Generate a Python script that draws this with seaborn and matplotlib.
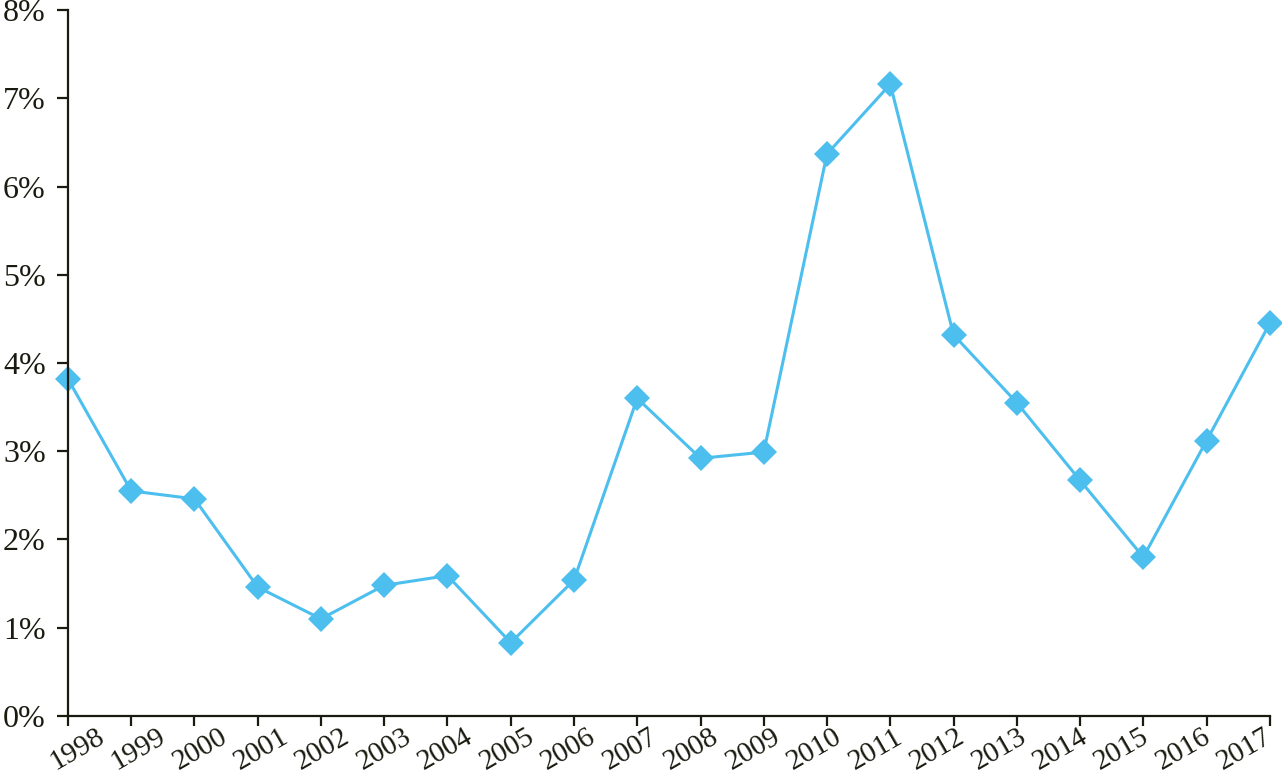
import pandas as pd
import seaborn as sns
import matplotlib.pyplot as plt
from matplotlib.transforms import ScaledTranslation

years = [str(y) for y in range(1998, 2018)]
rate = [3.82, 2.55, 2.46, 1.46, 1.10, 1.48, 1.59, 0.83, 1.54, 3.60,
        2.92, 2.99, 6.37, 7.16, 4.32, 3.55, 2.67, 1.80, 3.12, 4.45]
y_ticks = [0, 1, 2, 3, 4, 5, 6, 7, 8]
y_labels = [f"{t}%" for t in y_ticks]

df = pd.DataFrame({"year": years, "rate": rate})

sns.set_style("ticks")
plt.rcParams["font.family"] = ["Liberation Serif", "DejaVu Serif"]

fig = plt.figure(figsize=(12.82, 7.79), dpi=100)
ax = fig.add_axes([0.053, 0.081, 0.9375, 0.906])

sns.lineplot(data=df, x="year", y="rate", ax=ax,
             color="#4cbfee", linewidth=2.2,
             marker="D", markersize=13, markeredgewidth=0,
             sort=False, clip_on=False)

ax.set_xlim(0, len(years) - 1)
ax.set_ylim(0, 8)
ax.set_yticks(y_ticks)
ax.set_yticklabels(y_labels)
ax.set_xlabel("")
ax.set_ylabel("")

for s in ["top", "right"]:
    ax.spines[s].set_visible(False)
for s in ["left", "bottom"]:
    ax.spines[s].set_linewidth(1.6)
    ax.spines[s].set_color("#1a1a10")

ax.tick_params(axis="y", length=8, width=1.6, color="#1a1a10", pad=8,
               labelsize=23, labelcolor="#1a1a10")
ax.tick_params(axis="x", length=7, width=1.6, color="#1a1a10", pad=0,
               labelsize=21, labelcolor="#1a1a10")

# labels in the original sit a bit tighter than the ticks
n = len(years)
for i, lab in enumerate(ax.get_xticklabels()):
    dx = (9 - 34 * i / (n - 1)) / 100
    lab.set_rotation(30)
    lab.set_ha("center")
    lab.set_transform(lab.get_transform() + ScaledTranslation(dx, 0.02, fig.dpi_scale_trans))

fig.savefig("out.png", dpi=100)
